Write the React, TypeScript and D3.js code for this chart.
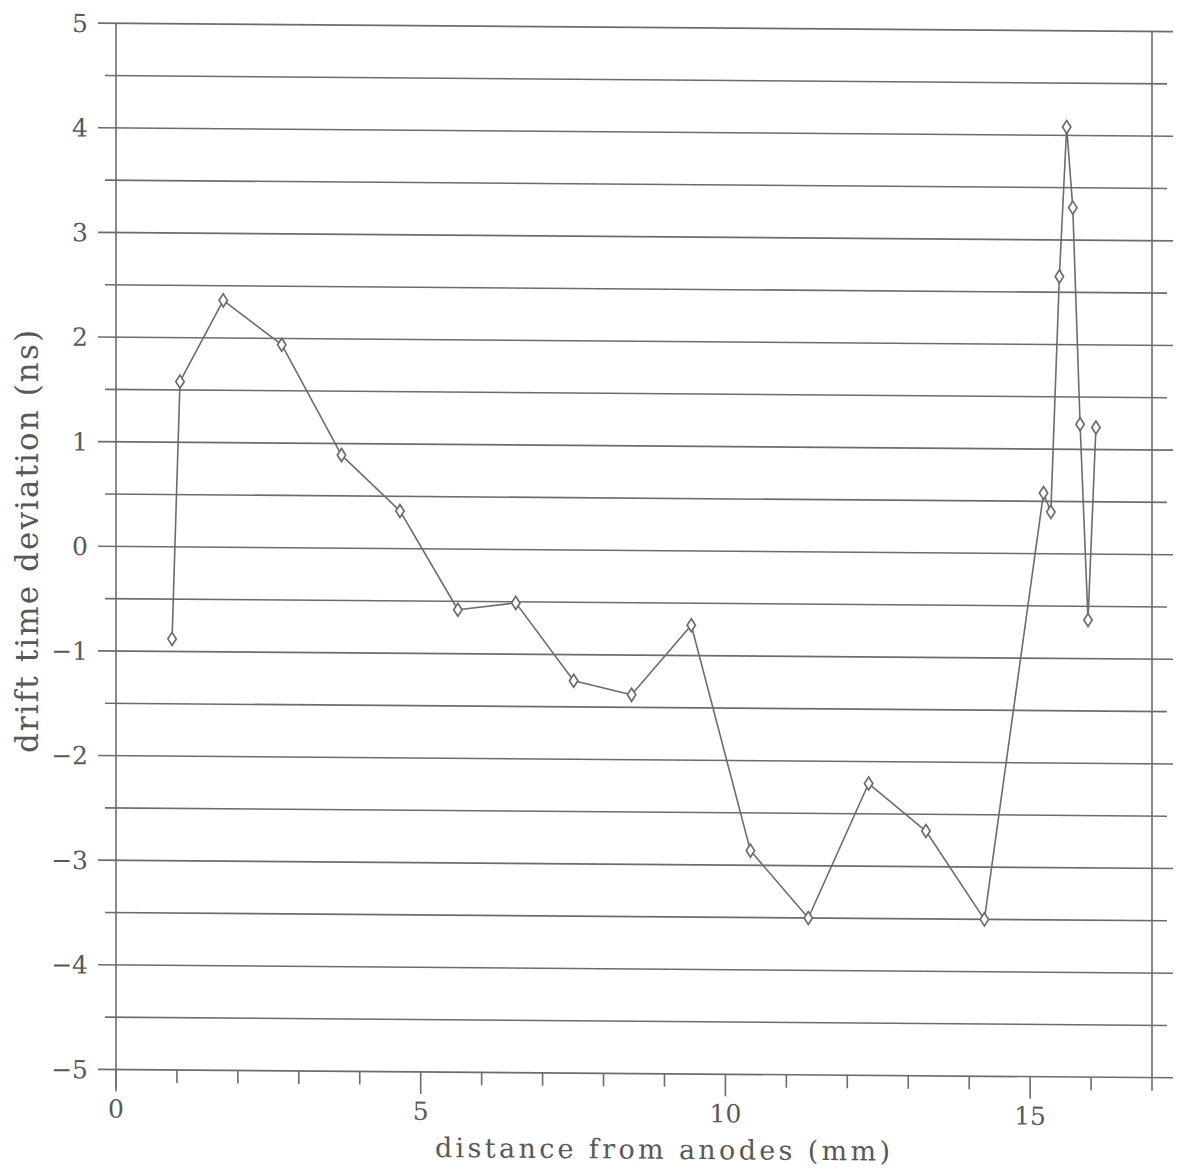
import React from "react";
import * as d3 from "d3";

const distance = [0.92, 1.05, 1.76, 2.72, 3.70, 4.66, 5.61, 6.56, 7.51, 8.46, 9.44, 10.41, 11.36, 12.35, 13.29, 14.25, 15.22, 15.34, 15.48, 15.60, 15.70, 15.82, 15.95, 16.08];
const deviation = [-0.88, 1.58, 2.36, 1.94, 0.89, 0.36, -0.58, -0.51, -1.25, -1.38, -0.71, -2.86, -3.50, -2.21, -2.66, -3.50, 0.58, 0.40, 2.65, 4.08, 3.31, 1.24, -0.63, 1.21];
const xTickValues = [0, 1, 2, 3, 4, 5, 6, 7, 8, 9, 10, 11, 12, 13, 14, 15, 16];
const xTickLabels = ["0", "5", "10", "15"];
const yTickLabels = ["5", "4", "3", "2", "1", "0", "\u22121", "\u22122", "\u22123", "\u22124", "\u22125"];
const yGridValues = [5, 4.5, 4, 3.5, 3, 2.5, 2, 1.5, 1, 0.5, 0, -0.5, -1, -1.5, -2, -2.5, -3, -3.5, -4, -4.5, -5];
const xTitle = "distance from anodes (mm)";
const yTitle = "drift time deviation (ns)";

const W = 1183;
const H = 1173;
const X0 = 116;
const X1 = 1152;
const INK = "#6c6c6c";
const TXT = "#585858";
const FONT = "'DejaVu Serif', serif";

export default function App() {
  const x = d3.scaleLinear().domain([0, 17]).range([X0, X1]);
  const y = d3.scaleLinear().domain([-5, 5]).range([1069.5, 23.3]);
  const pts = distance.map((d, i) => [d, deviation[i]] as [number, number]);
  const line = d3
    .line<[number, number]>()
    .x((d) => x(d[0]))
    .y((d) => y(d[1]))(pts);
  const diamond = "M0,-6.5 L4.2,0 L0,6.5 L-4.2,0 Z";
  const yBase = y(-5);
  const skew = `translate(${X0},0) skewY(0.45) translate(${-X0},0)`;

  return (
    <svg
      width={W}
      height={H}
      style={{ position: "absolute", left: 0, top: 0, background: "#fff" }}
    >
      <rect x={0} y={0} width={W} height={H} fill="#fff" />
      <g transform={skew}>
        {yGridValues.map((v) => {
          const major = Number.isInteger(v);
          return (
            <line
              key={"g" + v}
              x1={major ? 98 : 105}
              x2={major ? 1173 : 1167}
              y1={y(v)}
              y2={y(v)}
              stroke={INK}
              strokeWidth={1.6}
            />
          );
        })}
        <line x1={x(0)} x2={x(0)} y1={y(5)} y2={yBase + 19} stroke={INK} strokeWidth={1.6} />
        <line x1={x(17)} x2={x(17)} y1={y(5)} y2={yBase + 13} stroke={INK} strokeWidth={1.6} />
        {xTickValues.map((v) => (
          <line
            key={"t" + v}
            x1={x(v)}
            x2={x(v)}
            y1={yBase}
            y2={yBase + (v % 5 === 0 ? 22 : 13)}
            stroke={INK}
            strokeWidth={1.6}
          />
        ))}
        {xTickLabels.map((t) => (
          <text
            key={"xl" + t}
            x={x(+t)}
            y={yBase + 48}
            textAnchor="middle"
            fontFamily={FONT}
            fontSize={25}
            fill={TXT}
          >
            {t}
          </text>
        ))}
        {yTickLabels.map((t) => (
          <text
            key={"yl" + t}
            x={88}
            y={y(+t.replace("\u2212", "-"))}
            dy="0.36em"
            textAnchor="end"
            fontFamily={FONT}
            fontSize={25}
            fill={TXT}
          >
            {t}
          </text>
        ))}
        <path d={line || ""} fill="none" stroke={INK} strokeWidth={1.6} strokeLinejoin="round" />
        {pts.map((p, i) => (
          <path
            key={"m" + i}
            d={diamond}
            transform={`translate(${x(p[0])},${y(p[1])})`}
            fill="#fff"
            stroke={INK}
            strokeWidth={1.7}
          />
        ))}
        <text
          x={435}
          y={yBase + 85}
          textLength={455}
          lengthAdjust="spacing"
          fontFamily={FONT}
          fontSize={27}
          fill={TXT}
        >
          {xTitle}
        </text>
      </g>
      <text
        transform="translate(38,753) rotate(-90)"
        x={0}
        y={0}
        textLength={423}
        lengthAdjust="spacing"
        fontFamily={FONT}
        fontSize={31}
        fill={TXT}
      >
        {yTitle}
      </text>
    </svg>
  );
}
